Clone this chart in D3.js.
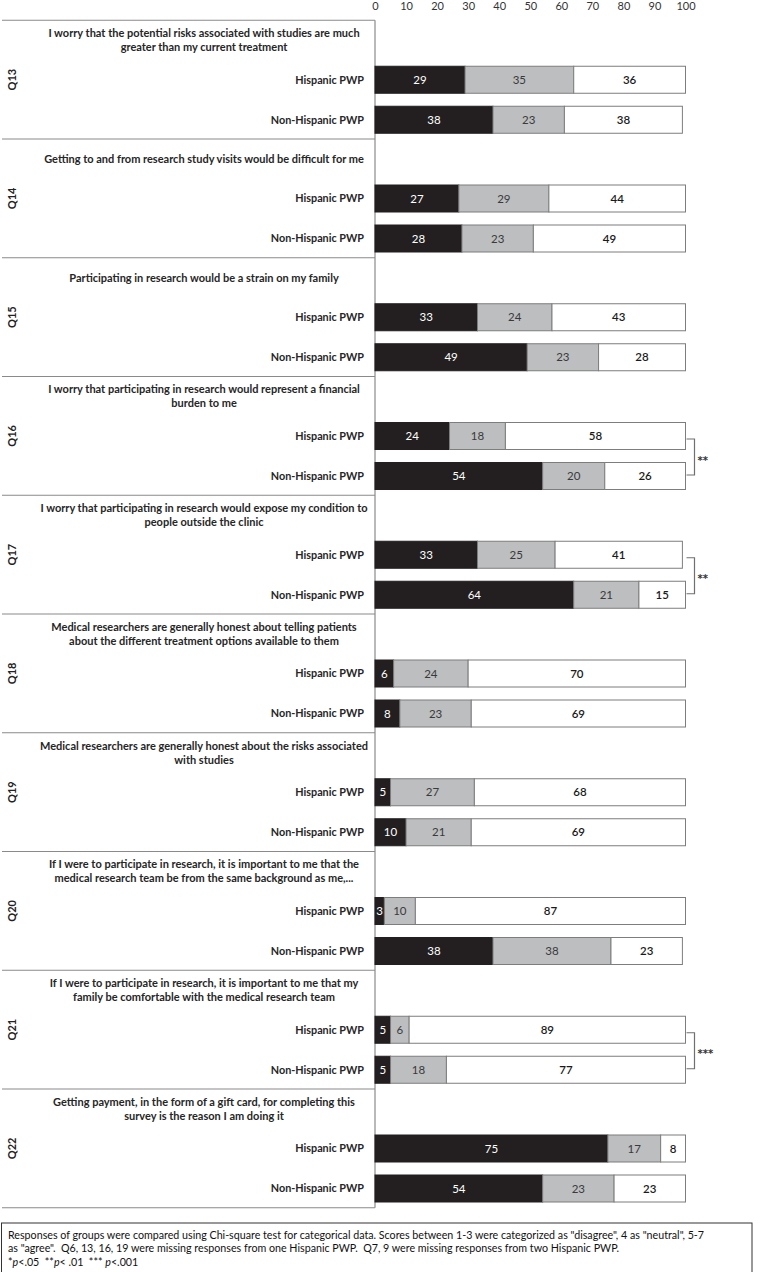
<!DOCTYPE html>
<html>
<head>
<meta charset="utf-8">
<script src="https://cdn.jsdelivr.net/npm/d3@7"></script>
<style>
  html, body { margin: 0; padding: 0; background: #fff; }
  svg { display: block; font-family: Lato, "Open Sans", sans-serif; }
</style>
</head>
<body>
<svg id="chart" width="761" height="1272"></svg>
<script>
// ---------- data ----------
const questions = ["Q13","Q14","Q15","Q16","Q17","Q18","Q19","Q20","Q21","Q22"];
const titles = [
  ["I worry that the potential risks associated with studies are much", "greater than my current treatment"],
  ["Getting to and from research study visits would be difficult for me"],
  ["Participating in research would be a strain on my family"],
  ["I worry that participating in research would represent a financial", "burden to me"],
  ["I worry that participating in research would expose my condition to", "people outside the clinic"],
  ["Medical researchers are generally honest about telling patients", "about the different treatment options available to them"],
  ["Medical researchers are generally honest about the risks associated", "with studies"],
  ["If I were to participate in research, it is important to me that the", "medical research team be from the same background as me,..."],
  ["If I were to participate in research, it is important to me that my", "family be comfortable with the medical research team"],
  ["Getting payment, in the form of a gift card, for completing this", "survey is the reason I am doing it"]
];
const groups = ["Hispanic PWP", "Non-Hispanic PWP"];
const responseKeys = ["disagree", "neutral", "agree"];
// [disagree, neutral, agree] per question
const hispanic = [
  [29,35,36],[27,29,44],[33,24,43],[24,18,58],[33,25,41],
  [6,24,70],[5,27,68],[3,10,87],[5,6,89],[75,17,8]
];
const nonHispanic = [
  [38,23,38],[28,23,49],[49,23,28],[54,20,26],[64,21,15],
  [8,23,69],[10,21,69],[38,38,23],[5,18,77],[54,23,23]
];
const significance = ["","","","**","**","","","","***",""];
const tickValues = [0,10,20,30,40,50,60,70,80,90,100];
const footnote = [
  [{t:'Responses of groups were compared using Chi-square test for categorical data. Scores between 1-3 were categorized as "disagree", 4 as "neutral", 5-7'}],
  [{t:'as "agree".  Q6, 13, 16, 19 were missing responses from one Hispanic PWP.  Q7, 9 were missing responses from two Hispanic PWP.'}],
  [{t:'*'},{t:'p',i:true},{t:'<.05  **'},{t:'p',i:true},{t:'< .01  *** '},{t:'p',i:true},{t:'<.001'}]
];

// ---------- layout ----------
const svg = d3.select("#chart");
const x = d3.scaleLinear().domain([0,100]).range([375, 685.5]);
const blockH = 118.75, top0 = 20.25;
const blockY = d3.scaleLinear().domain([0, questions.length]).range([top0, top0 + blockH*questions.length]);
const rowY = d3.scalePoint().domain(groups).range([59.5, 99.5]);
const barH = 27;
const color = d3.scaleOrdinal().domain(responseKeys).range(["#231f20", "#bcbec0", "#ffffff"]);
const textColor = d3.scaleOrdinal().domain(responseKeys).range(["#ffffff", "#3a3a3a", "#1a1a1a"]);
const lineColor = "#8a8a8a";

// top axis
const axis = d3.axisTop(x).tickValues(tickValues).tickSize(0).tickPadding(2);
const ax = svg.append("g").attr("transform", "translate(0,12)").call(axis);
ax.select(".domain").remove();
ax.selectAll("text").attr("font-size", 11).attr("fill", "#333").attr("font-family", "Lato, sans-serif");

// grid lines (left panel)
svg.append("line").attr("x1", x(0)).attr("x2", x(0)).attr("y1", blockY(0)).attr("y2", blockY(questions.length))
  .attr("stroke", lineColor).attr("stroke-width", 1.2);
svg.selectAll("line.sep").data(d3.range(questions.length + 1)).join("line").attr("class","sep")
  .attr("x1", 2).attr("x2", x(0)).attr("y1", d => blockY(d)).attr("y2", d => blockY(d))
  .attr("stroke", lineColor).attr("stroke-width", 1.2);

// blocks
questions.forEach((q, qi) => {
  const g = svg.append("g").attr("transform", `translate(0,${blockY(qi)})`);
  // Q label
  g.append("text").attr("transform", `translate(16,${blockH/2}) rotate(-90)`)
    .attr("text-anchor","middle").attr("font-weight", 700).attr("font-size", 11).attr("fill", "#222").text(q);
  // title
  const lines = titles[qi];
  const tTop = lines.length === 1 ? 20 : 13;
  lines.forEach((ln, li) => {
    g.append("text").attr("x", 204).attr("y", tTop + li*14).attr("dy", "0.35em")
      .attr("text-anchor","middle").attr("font-weight", 700).attr("font-size", 11).attr("fill", "#262626").text(ln);
  });
  // rows
  const rows = [hispanic[qi], nonHispanic[qi]];
  rows.forEach((vals, ri) => {
    const cy = rowY(groups[ri]);
    g.append("text").attr("x", 364).attr("y", cy).attr("dy","0.35em").attr("text-anchor","end")
      .attr("font-weight", 700).attr("font-size", 10.8).attr("fill", "#262626").text(groups[ri]);
    let acc = 0;
    const segs = vals.map((v, k) => { const s = {k: responseKeys[k], v, x0: acc, x1: acc + v}; acc += v; return s; });
    const sg = g.selectAll(null).data(segs).join("g");
    sg.append("rect")
      .attr("x", d => x(d.x0)).attr("width", d => x(d.x1) - x(d.x0))
      .attr("y", cy - barH/2).attr("height", barH)
      .attr("fill", d => color(d.k))
      .attr("stroke", d => d.k === "disagree" ? "#231f20" : "#7d7d7d").attr("stroke-width", 1);
    sg.append("text")
      .attr("x", d => (x(d.x0) + x(d.x1))/2).attr("y", cy).attr("dy","0.35em")
      .attr("text-anchor","middle").attr("font-size", 11.5)
      .attr("font-weight", d => d.k === "agree" ? 600 : 400)
      .attr("fill", d => textColor(d.k)).text(d => d.v);
  });
  // significance bracket
  if (significance[qi]) {
    const y1 = rowY(groups[0]) + 3, y2 = rowY(groups[1]) - 1;
    const bx0 = x(100) + 1, bx1 = x(100) + 9;
    g.append("path").attr("d", `M${bx0},${y1}H${bx1}V${y2}H${bx0}`)
      .attr("fill","none").attr("stroke", "#6f6f6f").attr("stroke-width", 1.2);
    g.append("text").attr("x", bx1 + 3).attr("y", (y1 + y2)/2 + 3).attr("dy","0.35em")
      .attr("font-family", "'DejaVu Sans', sans-serif").attr("font-weight", 700)
      .attr("font-size", 10).attr("fill","#333").text(significance[qi]);
  }
});

// footnote
svg.append("rect").attr("x", 1.5).attr("y", 1223).attr("width", 750.5).attr("height", 60)
  .attr("fill", "none").attr("stroke", "#333").attr("stroke-width", 1);
footnote.forEach((parts, li) => {
  const t = svg.append("text").attr("x", 8).attr("y", 1235 + li*13.5).attr("dy","0.35em")
    .attr("font-size", 10.7).attr("fill", "#111").style("white-space", "pre");
  parts.forEach(p => t.append("tspan").attr("font-style", p.i ? "italic" : "normal").text(p.t));
});
</script>
</body>
</html>
